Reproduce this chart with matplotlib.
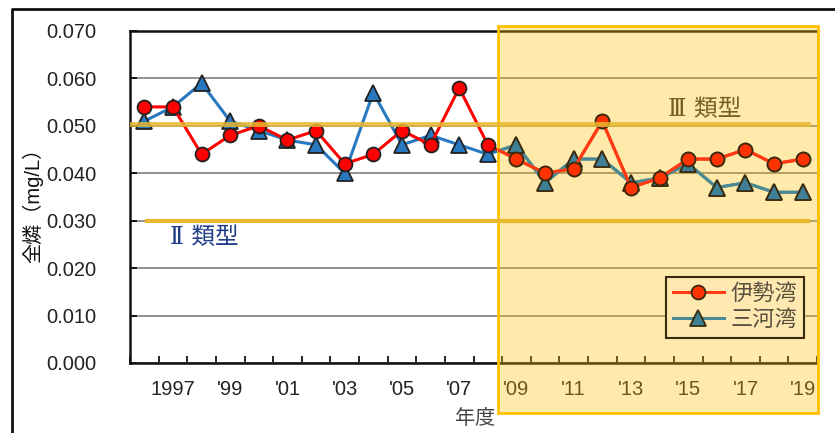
import matplotlib
matplotlib.use("Agg")
import matplotlib.pyplot as plt
from matplotlib.patches import Rectangle
from matplotlib.lines import Line2D
import numpy as np

plt.rcParams['font.family'] = ['Liberation Sans', 'Noto Sans CJK JP', 'DejaVu Sans']

# data (mg/L)
years = list(range(1996, 2020))
ise = [0.054, 0.054, 0.044, 0.048, 0.050, 0.047, 0.049, 0.042, 0.044, 0.049,
       0.046, 0.058, 0.046, 0.043, 0.040, 0.041, 0.051, 0.037, 0.039, 0.043,
       0.043, 0.045, 0.042, 0.043]
mikawa = [0.051, 0.054, 0.059, 0.051, 0.049, 0.047, 0.046, 0.040, 0.057, 0.046,
          0.048, 0.046, 0.044, 0.046, 0.038, 0.043, 0.043, 0.038, 0.039, 0.042,
          0.037, 0.038, 0.036, 0.036]
tick_years = years[1::2]
tick_labels = ['1997'] + ["'%02d" % (y % 100) for y in tick_years[1:]]
std_iii = 0.0503
std_ii = 0.030

W, H = 835, 433
pos = [130 / W, 1 - 363 / H, 687 / W, 332 / H]
fig = plt.figure(figsize=(W / 100, H / 100), dpi=100)
ax = fig.add_axes(pos)

x = np.arange(len(years))
ax.plot(x, ise, color='#FF0000', lw=2.2, marker='o', ms=10,
        mfc='#FF0000', mec='#222222', mew=1.3, zorder=4)
ax.plot(x, mikawa, color='#2878C0', lw=2.2, marker='^', ms=11,
        mfc='#2878C0', mec='#222222', mew=1.3, zorder=3)

ax.set_xlim(-0.5, len(years) - 0.5)
ax.set_ylim(0, 0.070)
ax.set_yticks(np.arange(0, 0.0701, 0.010))
ax.set_yticklabels(['%.3f' % v for v in np.arange(0, 0.0701, 0.010)])
ax.set_xticks([years.index(y) for y in tick_years])
ax.set_xticklabels(tick_labels)
ax.set_xticks(np.arange(-0.5, len(years)), minor=True)
ax.tick_params(axis='x', which='major', length=0, labelsize=14.5, pad=12, labelcolor='#222222')
ax.tick_params(axis='x', which='minor', direction='in', length=5, width=1.2)
ax.tick_params(axis='y', direction='in', length=5, width=1.2, labelsize=14.5,
               pad=24, labelcolor='#222222')
ax.grid(axis='y', color='#888888', lw=1.3)
ax.set_axisbelow(True)
for s in ['left', 'bottom', 'top']:
    ax.spines[s].set_linewidth(1.8)
    ax.spines[s].set_color('#111111')
ax.spines['right'].set_color('#999999')

fig.text(33 / W, 1 - 200 / H, '全燐（mg/L）', rotation=90, ha='center', va='center',
         fontsize=14.5, color='#111111')
fig.text(475 / W, 1 - 418 / H, '年度', ha='center', va='center', fontsize=14.5,
         color='#444444')

# roman numerals with bars, as in the original type
ax.text(668 / W, 1 - 110 / H, 'Ⅲ 類型', transform=fig.transFigure, ha='left',
        va='center', fontsize=17, color='#333333', zorder=6,
        family=['DejaVu Serif', 'Noto Sans CJK JP'])
ax.text(170 / W, 1 - 238 / H, 'Ⅱ 類型', transform=fig.transFigure, ha='left',
        va='center', fontsize=17, color='#1F3C88', zorder=6,
        family=['DejaVu Serif', 'Noto Sans CJK JP'])

# highlighted period overlay
box = (498 / W, 1 - 413 / H)
bw, bh = 320 / W, 387 / H
fig.patches.append(Rectangle(box, bw, bh, transform=fig.transFigure,
                             facecolor='#FFC000', alpha=0.33, edgecolor='none', zorder=10))
fig.patches.append(Rectangle(box, bw, bh, transform=fig.transFigure, facecolor='none',
                             edgecolor='#FFC000', lw=2, zorder=11))

# series as seen through the overlay, drawn on top and clipped to it
ax2 = fig.add_axes(pos, zorder=20)
ax2.set_xlim(ax.get_xlim())
ax2.set_ylim(ax.get_ylim())
ax2.axis('off')
clip = Rectangle(box, bw, bh, transform=fig.transFigure)
l1, = ax2.plot(x, ise, color='#FF3A14', lw=2.2, marker='o', ms=10,
               mfc='#FF3300', mec='#3A2A10', mew=1.3, label='伊勢湾', zorder=4)
l2, = ax2.plot(x, mikawa, color='#4A8A96', lw=2.2, marker='^', ms=11,
               mfc='#3E8095', mec='#3A2A10', mew=1.3, label='三河湾', zorder=3)
l1.set_clip_path(clip)
l2.set_clip_path(clip)

# environmental standard lines
ax2.axhline(std_iii, xmin=0, xmax=0.987, color='#E8B830', lw=3.5, alpha=0.85, zorder=5)
ax2.axhline(std_ii, xmin=0.025, xmax=0.987, color='#E8B830', lw=3.0, zorder=5)

leg = ax2.legend(loc='upper left', bbox_to_anchor=(666 / W, 1 - 277 / H),
                 bbox_transform=fig.transFigure, fontsize=16, frameon=True,
                 fancybox=False, edgecolor='#3A2A10', facecolor='#FFE9B0',
                 framealpha=1, handlelength=2.3, borderpad=0.3, labelspacing=0.25,
                 handletextpad=0.3, borderaxespad=0)
leg.get_frame().set_linewidth(1.5)
for t in leg.get_texts():
    t.set_color('#5A5040')

# outer frame
fig.lines.append(Line2D([12 / W, 12 / W, 1.0], [0, 1 - 9 / H, 1 - 9 / H],
                        transform=fig.transFigure, color='#111111', lw=2))

fig.savefig('out.png', dpi=100)
